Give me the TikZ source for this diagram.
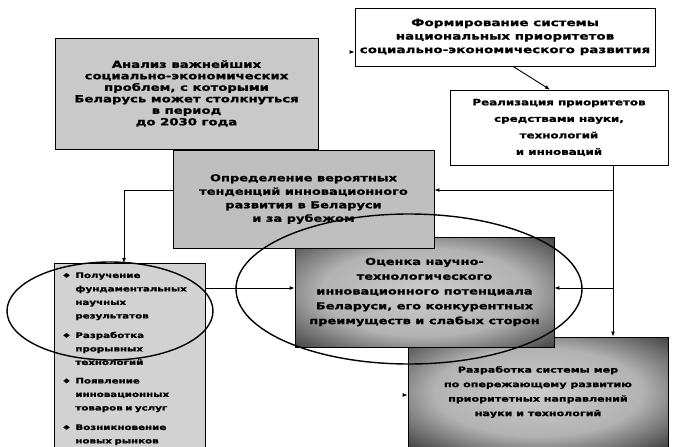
\documentclass[tikz,border=0pt]{standalone}
\usepackage{fontspec}
\setmainfont{DejaVu Sans}
\newfontfamily\heavy[FakeStretch=1.35, FakeBold=1.2]{DejaVu Sans}
\usetikzlibrary{arrows.meta}

\pgfdeclareradialshading{glow}{\pgfpoint{0bp}{0bp}}{color(0bp)=(gray!40); color(20bp)=(gray!60); color(37bp)=(black!78); color(50bp)=(black); color(100bp)=(black)}

\newcommand{\bul}[1]{\makebox[12pt][l]{\raisebox{1pt}{\fontsize{6}{6}\selectfont ◆}}#1}
\newcommand{\ind}{\hspace*{12pt}}

\tikzset{
  box/.style={draw, line width=0.8pt, align=center, inner sep=2pt},
  fsz/.style 2 args={font=\heavy\bfseries\fontsize{#1}{#2}\selectfont},
  greybox/.style={box, fill=gray!50},
  whitebox/.style={box, fill=white},
  darkbox/.style={box, shading=glow},
  arr/.style={line width=0.9pt, -{Latex[length=5pt,width=4pt]}},
  ring/.style={line width=1.4pt}
}

\begin{document}
\begin{tikzpicture}[x=1pt,y=-1pt]
\useasboundingbox (0,0) rectangle (673,447);
\clip (0,0) rectangle (673,447);

% boxes
\node[whitebox, fsz={10}{13.5}, minimum width=300pt, minimum height=58pt] (form) at (505,37)
  {Формирование системы\\национальных приоритетов\\социально-экономического развития};
\node[whitebox, fsz={8.8}{16.5}, minimum width=218pt, minimum height=75pt] (real) at (559,127.5)
  {Реализация приоритетов\\средствами науки,\\технологий\\и инноваций};
\node[greybox, fill=gray!42, fsz={9.8}{11.5}, minimum width=263pt, minimum height=111pt] (anal) at (186.5,93.5)
  {Анализ важнейших\\социально-экономических\\проблем, с которыми\\Беларусь может столкнуться\\в период\\до 2030 года};
\node[darkbox, fsz={8.2}{14.5}, minimum width=260pt, minimum height=110pt] (razr) at (538,392)
  {Разработка системы мер\\по опережающему развитию\\приоритетных направлений\\науки и технологий};
\node[darkbox, fsz={9.6}{14.8}, minimum width=259pt, minimum height=110pt] (ocen) at (424.5,292)
  {Оценка научно-\\технологического\\инновационного потенциала\\Беларуси, его конкурентных\\преимуществ и слабых сторон};
\node[greybox, fsz={9.6}{13.5}, minimum width=261pt, minimum height=98pt] (opr) at (303.5,199)
  {Определение вероятных\\тенденций инновационного\\развития в Беларуси\\и за рубежом};
\node[greybox, fill=gray!35, fsz={7.6}{13.5}, anchor=north west, align=left,
      text width=133pt, inner xsep=9pt, inner ysep=9pt] (list) at (54,263)
  {\bul{Получение}\\ \ind фундаментальных\\ \ind научных\\ \ind результатов\\[6pt]
   \bul{Разработка}\\ \ind прорывных\\ \ind технологий\\[5pt]
   \bul{Появление}\\ \ind инновационных\\ \ind товаров и услуг\\[6pt]
   \bul{Возникновение}\\ \ind новых рынков};

% connectors
\coordinate (tap) at ([xshift=54pt]real.south);
\coordinate (oprin) at ([yshift=9pt]opr.east);
\coordinate (ocenin) at ([yshift=4pt]ocen.east);
\coordinate (formin) at ([yshift=-15pt]form.west);
\coordinate (razrin) at ([yshift=-3pt]razr.west);
\draw[arr] ([xshift=8pt]form.south) -- ([xshift=-9pt]real.north);
\draw[arr] (tap) -- (tap |- razr.north);
\draw[arr] (tap |- oprin) -- (oprin);
\draw[arr] (tap |- ocenin) -- (ocenin);
\draw[arr] ([yshift=9pt]opr.west) -| ([xshift=70pt]list.north west);
\draw[arr] ([yshift=-25pt]list.north east) -- ([yshift=4pt]ocen.west);
\draw[arr] ([xshift=-5pt]formin) -- (formin);
\draw[arr] ([xshift=-5pt]razrin) -- (razrin);

% rings
\draw[ring] (110,311) ellipse [x radius=103pt, y radius=49pt];
\draw[ring] (409,289) ellipse [x radius=173pt, y radius=75pt];
\end{tikzpicture}
\end{document}
